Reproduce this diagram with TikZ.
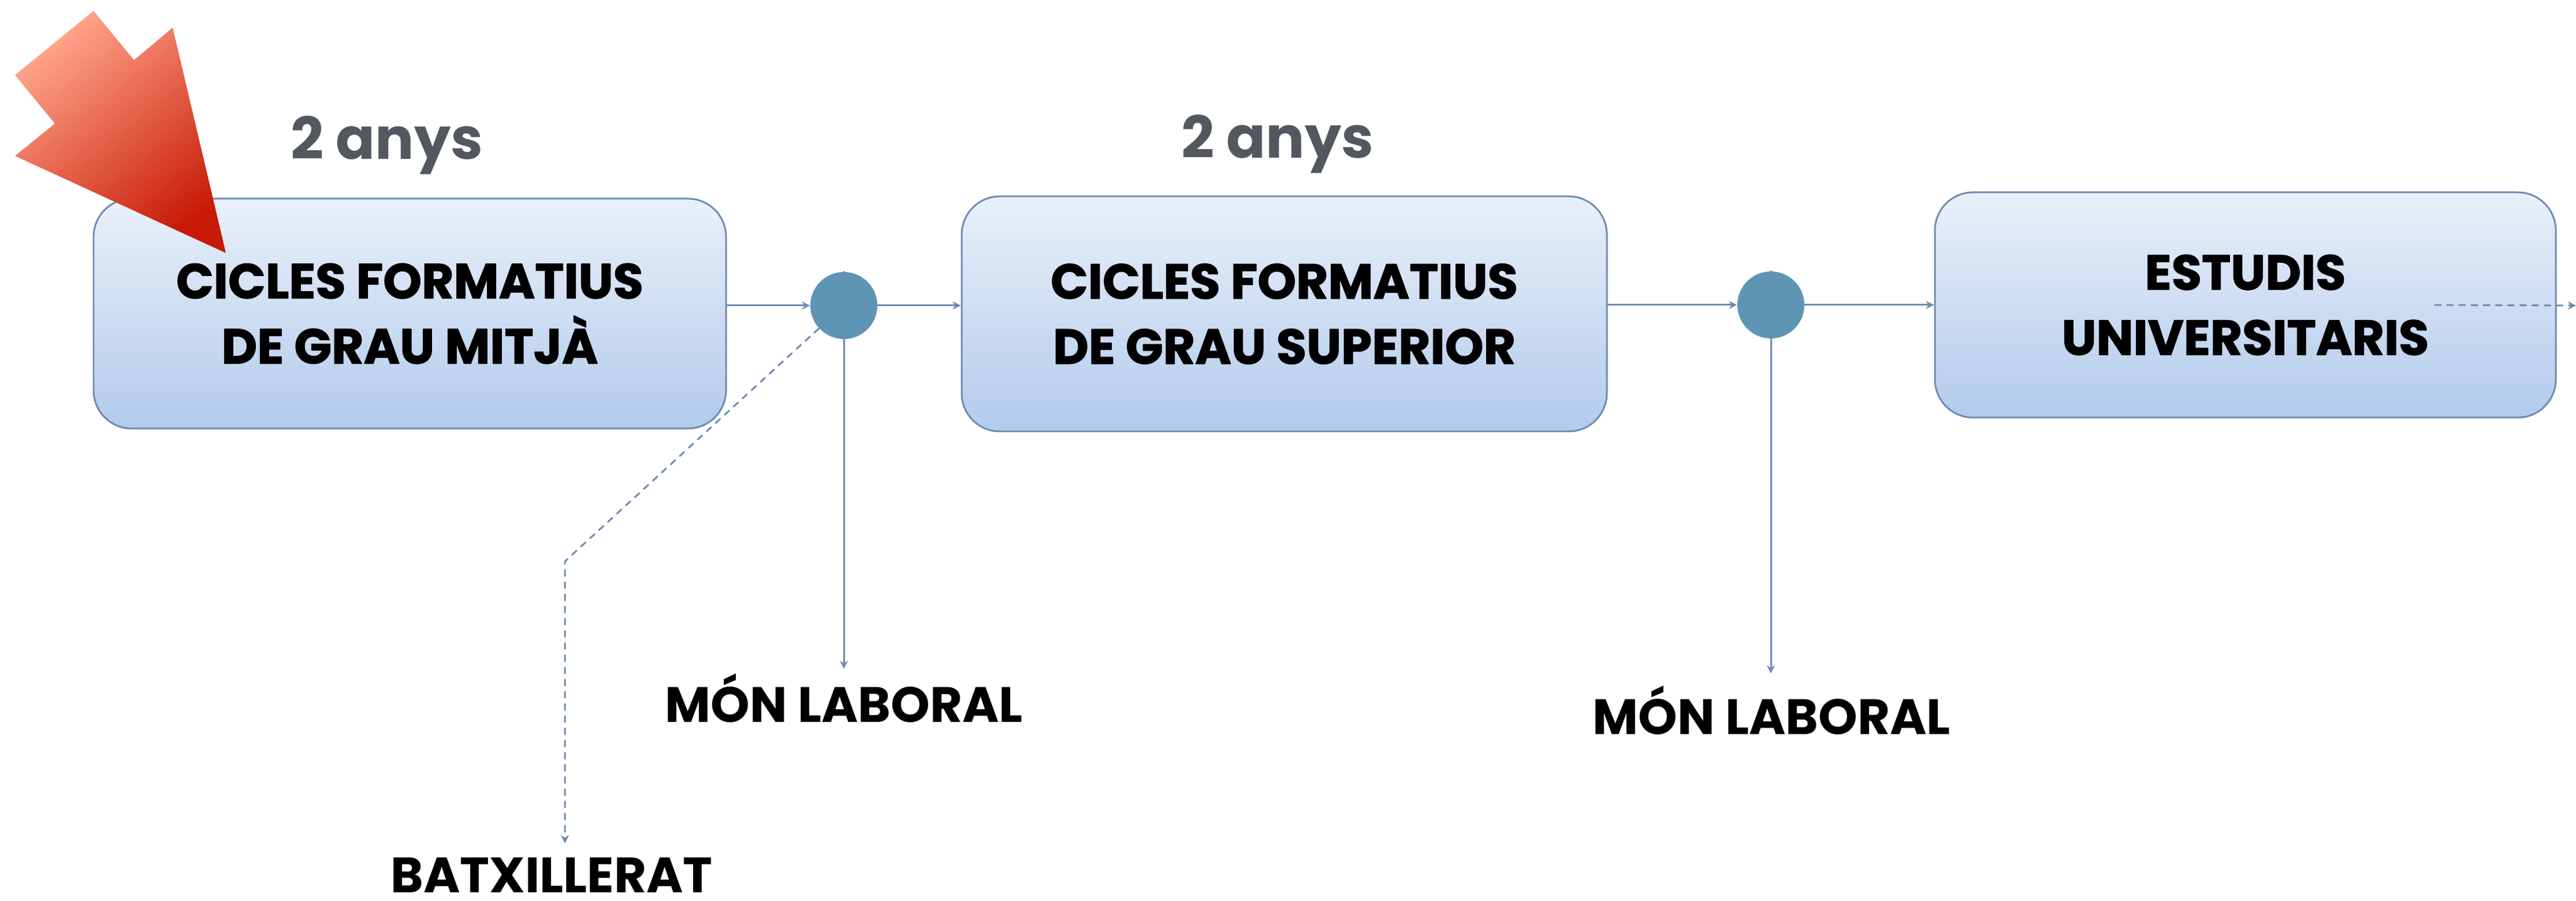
\documentclass[tikz,border=0pt]{standalone}
\usepackage{fontspec}
\setmainfont{Poppins}
\newfontfamily\heavyfont{Poppins}[BoldFeatures={FakeBold=1.6}]
\usetikzlibrary{arrows.meta,positioning}
\definecolor{lin}{RGB}{110,138,178}
\definecolor{boxtop}{RGB}{233,240,250}
\definecolor{boxbot}{RGB}{178,203,235}
\definecolor{nus}{RGB}{94,149,181}
\definecolor{anysgray}{RGB}{83,88,96}
\definecolor{redlight}{RGB}{255,164,138}
\definecolor{reddark}{RGB}{200,26,6}
\tikzset{
  caixa/.style={draw=lin,line width=0.85pt,rounded corners=0.66cm,top color=boxtop,bottom color=boxbot,
    align=center,inner sep=0pt,font=\heavyfont\bfseries\fontsize{24.2}{32.1}\selectfont},
  nus/.style={circle,fill=nus,minimum size=1.16cm,inner sep=0pt},
  conn/.style={draw=lin,line width=0.85pt,-{Stealth[length=4pt,width=4pt]}},
  sortida/.style={inner sep=0pt,font=\bfseries\fontsize{24.5}{28}\selectfont},
  anys/.style={anchor=base,inner sep=0pt,text=anysgray,font=\bfseries\fontsize{28.5}{34}\selectfont}
}
\begin{document}
\begin{tikzpicture}[line cap=round,line join=round]
  \useasboundingbox (0,0) rectangle (44.6,-15.6);
  \node[caixa,minimum width=10.95cm,minimum height=3.98cm] (b1) at (7.095,-5.43) {CICLES FORMATIUS\\DE GRAU MITJÀ};
  \node[caixa,minimum width=11.17cm,minimum height=4.07cm] (b2) at (22.235,-5.435) {CICLES FORMATIUS\\DE GRAU SUPERIOR};
  \node[caixa,minimum width=10.75cm,minimum height=3.90cm] (b3) at (38.875,-5.28) {ESTUDIS\\UNIVERSITARIS};
  \node[nus] (c1) at (14.61,-5.29) {};
  \node[nus] (c2) at (30.66,-5.28) {};

  \node[anys] (a1) at (6.70,-2.76) {2 anys};
  \node[anys] (a2) at (22.12,-2.74) {2 anys};
  \node[sortida,anchor=base] (m1) at (14.61,-12.51) {MÓN LABORAL};
  \node[sortida,anchor=base] (m2) at (30.67,-12.71) {MÓN LABORAL};
  \node[sortida,anchor=base] (bx) at (9.55,-15.45) {BATXILLERAT};

  \coordinate (bend) at (9.78,-9.72);
  \coordinate (fin) at (44.6,-5.29);

  \draw[conn] (b1.east |- c1.west) -- (c1.west);
  \draw[conn] (c1.east) -- (b2.west |- c1.east);
  \draw[conn] (b2.east |- c2.west) -- (c2.west);
  \draw[conn] (c2.east) -- (b3.west |- c2.east);
  \draw[conn] (c1.north) -- (c1 |- 0,-11.58);
  \draw[conn] (c2.north) -- (c2 |- 0,-11.66);
  \draw[conn,dashed] (c1) -- (bend) -- (bend |- 0,-14.60);
  \draw[conn,dashed] ([xshift=-2.11cm]b3.east |- c2) -- (fin);

  % red arrow
  \shade[top color=redlight,bottom color=reddark,shading angle=39]
    (1.62,-0.19) -- (2.32,-1.04) -- (2.99,-0.48) -- (3.91,-4.38)
    -- (0.26,-2.70) -- (0.95,-2.14) -- (0.26,-1.30) -- cycle;
\end{tikzpicture}
\end{document}
